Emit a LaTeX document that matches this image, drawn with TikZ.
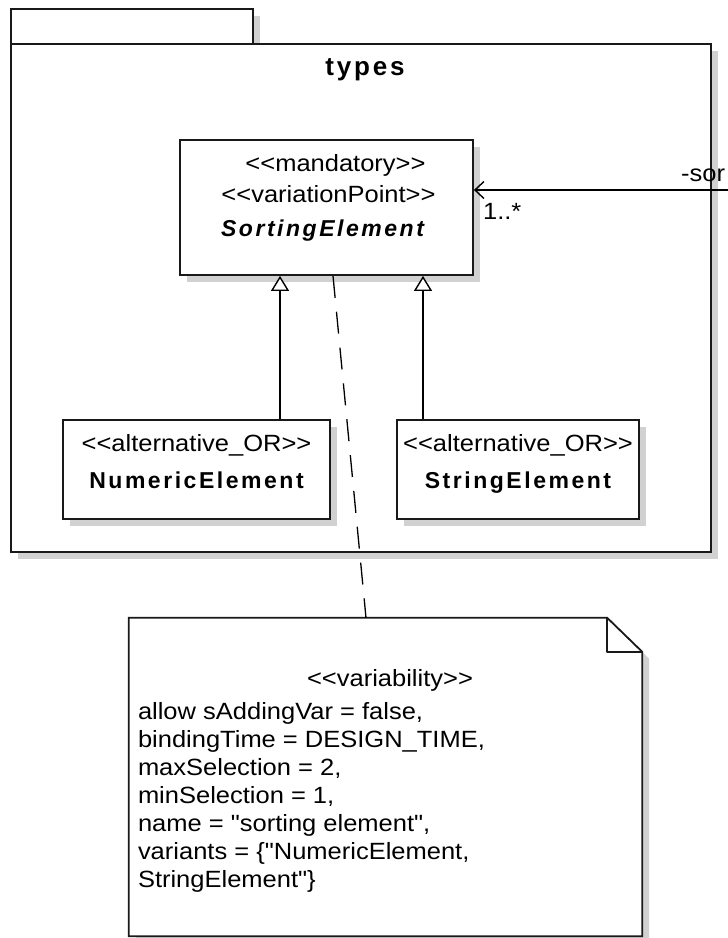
\documentclass[tikz,border=0pt]{standalone}
\usepackage{fontspec}
\setmainfont{Liberation Sans}[Ligatures=TeXOff, FakeStretch=1.085]
\newfontfamily\namefont[Ligatures=TeXOff, LetterSpace=11]{Liberation Sans}
\usetikzlibrary{arrows.meta,shadows,positioning}

% stereotype brackets, kept as plain << >>
\newcommand{\stype}[1]{<\kern0pt<#1>\kern0pt>}

\tikzset{
  umlline/.style={draw=black!90, line width=1.8pt},
  boxshadow/.style={drop shadow={shadow xshift=7pt, shadow yshift=-7pt, fill=black!18, opacity=1}},
  classbox/.style={umlline, fill=white, boxshadow, rectangle, inner sep=0pt},
  stereo/.style={font=\fontsize{23.5}{31}\selectfont, align=center, inner sep=0pt},
  notetext/.style={font=\fontsize{23.5}{28}\selectfont, align=left, inner sep=0pt},
  generalize/.style={-{Triangle[open, length=15pt, width=18pt, fill=white, line width=1.4pt]}, line width=1.4pt},
  navigate/.style={-{Straight Barb[length=9pt, width=17pt, line width=1.4pt]}, line width=1.4pt},
  anchorline/.style={dash pattern=on 22pt off 14pt, line width=1.3pt}
}

\begin{document}
\begin{tikzpicture}[x=1pt, y=-1pt]
  \useasboundingbox (0,0) rectangle (728,938);

  % package with its tab
  \node[classbox, minimum width=242, minimum height=35] (pkgtab) at (132,26.5) {};
  \node[classbox, minimum width=700, minimum height=508] (pkg) at (361,298) {};
  \node[font=\fontsize{26}{30}\selectfont\namefont\bfseries, inner sep=0pt] (pkgname) at (365,70) {types};

  % classes
  \node[classbox, minimum width=293, minimum height=135] (sortel) at (326.5,207.5) {};
  \node[stereo, anchor=north] (sortellbl) at ([yshift=-15]sortel.north)
    {\hspace*{18pt}\stype{mandatory}\\\hspace*{4pt}\stype{variationPoint}\\[3pt]
     {\fontsize{23}{30}\selectfont\namefont\bfseries\itshape SortingElement}\hspace*{8pt}};

  \node[classbox, minimum width=267, minimum height=99] (numel) at (196.5,469.5) {};
  \node[stereo, anchor=north] (numellbl) at ([yshift=-15]numel.north)
    {\stype{alternative\_OR}\\[6pt]{\fontsize{23}{30}\selectfont\namefont\bfseries NumericElement}};

  \node[classbox, minimum width=242, minimum height=99] (strel) at (518,469.5) {};
  \node[stereo, anchor=north] (strellbl) at ([yshift=-15]strel.north)
    {\stype{alternative\_OR}\\[6pt]{\fontsize{23}{30}\selectfont\namefont\bfseries StringElement}};

  % generalizations
  \draw[generalize] ([xshift=83.5]numel.north) coordinate (gnum) -- (gnum |- sortel.south);
  \draw[generalize] ([xshift=-95]strel.north) coordinate (gstr) -- (gstr |- sortel.south);

  % association coming in from the right
  \coordinate (assocend) at (740,190);
  \draw[navigate] (assocend) -- (sortel.east |- assocend);
  \node[stereo, anchor=west] (rolename) at (681,175) {-sor};
  \node[stereo, anchor=north west] (mult) at ([xshift=9,yshift=-13]sortel.east |- assocend) {1..*};

  % variability note
  \node[minimum width=513, minimum height=318, inner sep=0pt] (note) at (385.5,777) {};
  \draw[umlline, fill=white, boxshadow] (note.north west) -- ([xshift=-35]note.north east)
    -- ([yshift=-34]note.north east) -- (note.south east) -- (note.south west) -- cycle;
  \draw[umlline, line join=round] ([xshift=-35]note.north east) -- ([xshift=-35,yshift=-34]note.north east)
    -- ([yshift=-34]note.north east);
  \node[stereo] (varhead) at (390,680) {\stype{variability}};
  \node[notetext, anchor=north west] (varbody) at ([xshift=9,yshift=-84]note.north west)
    {allow sAddingVar = false,\\
     bindingTime = DESIGN\_TIME,\\
     maxSelection = 2,\\
     minSelection = 1,\\
     name = "sorting element",\\
     variants = \{"NumericElement,\\
     StringElement"\}};

  \draw[anchorline] ([xshift=6.5]sortel.south) -- ([xshift=-19.5]note.north);
\end{tikzpicture}
\end{document}
